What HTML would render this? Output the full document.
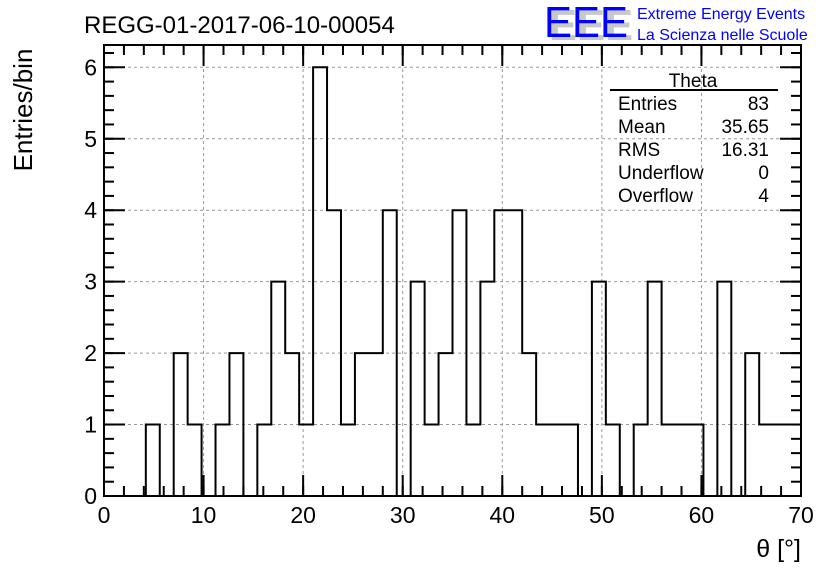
<!DOCTYPE html>
<html><head><meta charset="utf-8"><style>
body{margin:0;background:#fff;}
svg{display:block;font-family:"Liberation Sans",sans-serif;}
</style></head><body>
<svg id="chart" width="836" height="572" viewBox="0 0 836 572">
<rect x="0" y="0" width="836" height="572" fill="#fff"/>
<g id="grid"></g>
<g id="ticks"></g>
<path id="hist" fill="none" stroke="#000" stroke-width="2"/>
<rect x="104" y="45" width="697" height="451" fill="none" stroke="#000" stroke-width="2"/>
<g id="labels" font-size="23"></g>
<text x="84" y="33" font-size="24">REGG-01-2017-06-10-00054</text>
<text transform="translate(32,110) rotate(-90)" text-anchor="middle" font-size="26">Entries/bin</text>
<text x="801" y="557" text-anchor="end" font-size="25">θ [°]</text>
<g>
<text x="549" y="40" font-size="44" fill="#c8c8c8" font-weight="bold" textLength="84" lengthAdjust="spacingAndGlyphs">EEE</text>
<text x="544" y="37" font-size="44" fill="#0000ff" textLength="84" lengthAdjust="spacingAndGlyphs">EEE</text>
<text x="637" y="19" font-size="16" fill="#0000ff">Extreme Energy Events</text>
<text x="637" y="40" font-size="16" fill="#0000ff">La Scienza nelle Scuole</text>
</g>
<g font-size="19">
<text x="693" y="87" text-anchor="middle">Theta</text>
<line x1="610" y1="90" x2="778" y2="90" stroke="#000" stroke-width="2"/>
<text x="618" y="110">Entries</text><text x="769" y="110" text-anchor="end">83</text>
<text x="618" y="133">Mean</text><text x="769" y="133" text-anchor="end">35.65</text>
<text x="618" y="156">RMS</text><text x="769" y="156" text-anchor="end">16.31</text>
<text x="618" y="179">Underflow</text><text x="769" y="179" text-anchor="end">0</text>
<text x="618" y="202">Overflow</text><text x="769" y="202" text-anchor="end">4</text>
</g>
</svg>
<script>
const binCounts = [0,0,0,1,0,2,1,0,1,2,0,1,3,2,1,6,4,1,2,2,4,0,3,1,2,4,1,3,4,4,2,1,1,1,0,3,1,0,1,3,1,1,1,0,3,0,2,1,1,1];
const xTickLabels = ["0","10","20","30","40","50","60","70"];
const yTickLabels = ["0","1","2","3","4","5","6"];
const xMin = 0, xMax = 70, yMin = 0, yMax = 6.3;
const L=104,R=801,T=45,B=496;
const NS="http://www.w3.org/2000/svg";
function sx(v){return L+(v-xMin)/(xMax-xMin)*(R-L);}
const y6=67.3;
function sy(v){return B-(v-yMin)*(B-y6)/6;}
function mk(tag,attrs,parent){const e=document.createElementNS(NS,tag);for(const k in attrs)e.setAttribute(k,attrs[k]);parent.appendChild(e);return e;}
const grid=document.getElementById('grid'),ticks=document.getElementById('ticks'),labels=document.getElementById('labels');
const bw=(xMax-xMin)/binCounts.length;
let d="M"+sx(0)+","+sy(0);
binCounts.forEach((c,i)=>{d+=" L"+sx(i*bw)+","+sy(c)+" L"+sx((i+1)*bw)+","+sy(c);});
d+=" L"+sx(xMax)+","+sy(0);
document.getElementById('hist').setAttribute('d',d);
xTickLabels.forEach(t=>{const v=+t,x=sx(v);
 if(v>xMin&&v<xMax){const g=mk('line',{x1:x,y1:T,x2:x,y2:B,stroke:'#999','stroke-dasharray':'3,3','stroke-width':1},grid);}
 mk('line',{x1:x,y1:B,x2:x,y2:B-21,stroke:'#000','stroke-width':2},ticks);
 mk('line',{x1:x,y1:T,x2:x,y2:T+21,stroke:'#000','stroke-width':2},ticks);
 const tx=mk('text',{x:x,y:B+27,'text-anchor':'middle'},labels);tx.textContent=t;
 
});
for(let v=xMin;v<=xMax;v+=2){const x=sx(v);mk('line',{x1:x,y1:B,x2:x,y2:B-10,stroke:'#000','stroke-width':2},ticks);mk('line',{x1:x,y1:T,x2:x,y2:T+10,stroke:'#000','stroke-width':2},ticks);}
yTickLabels.forEach(t=>{const v=+t,y=sy(v);
 if(v>yMin){const g=mk('line',{x1:L,y1:y,x2:R,y2:y,stroke:'#999','stroke-dasharray':'3,3','stroke-width':1},grid);}
 mk('line',{x1:L,y1:y,x2:L+21,y2:y,stroke:'#000','stroke-width':2},ticks);
 mk('line',{x1:R,y1:y,x2:R-21,y2:y,stroke:'#000','stroke-width':2},ticks);
 const tx=mk('text',{x:L-7,y:y+8,'text-anchor':'end'},labels);tx.textContent=t;
 
});
for(let v=yMin;v<=yMax+1e-9;v+=0.2){const y=sy(v);if(y<T)break;mk('line',{x1:L,y1:y,x2:L+10,y2:y,stroke:'#000','stroke-width':2},ticks);mk('line',{x1:R,y1:y,x2:R-10,y2:y,stroke:'#000','stroke-width':2},ticks);}
</script>
</body></html>
